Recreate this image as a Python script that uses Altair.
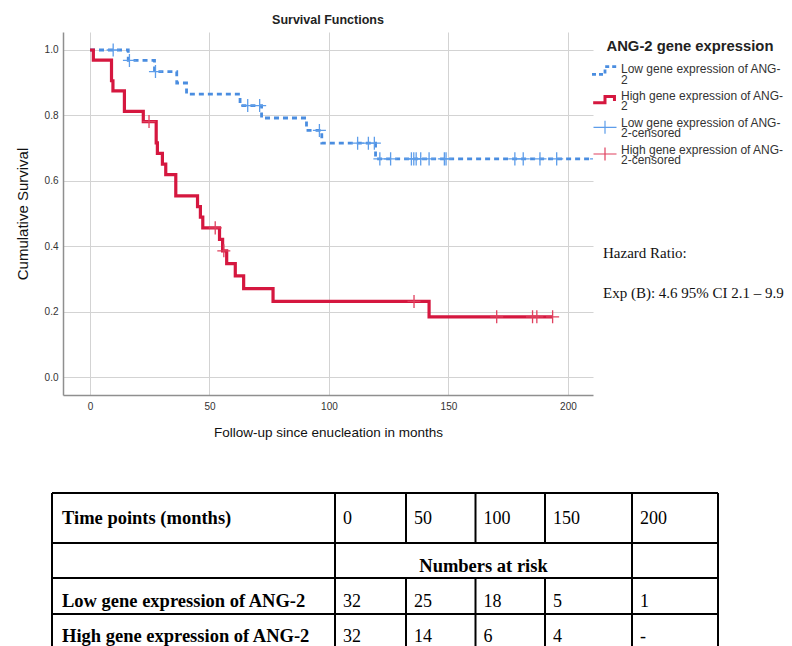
import altair as alt
import pandas as pd

# ---------------- data ----------------
# Low ANG-2 expression (blue, dashed): step times and survival level after each step
low_step_t = [0, 16.0, 27.0, 36.3, 40.4, 62.8, 71.8, 90.6, 97.0, 119.5]
low_step_s = [1.0, 0.968, 0.934, 0.899, 0.865, 0.830, 0.792, 0.754, 0.715, 0.667]
low_last_t = 212.0
low_cens_t = [9.7, 16.5, 27.4, 66.0, 71.0, 96.0, 112.0, 116.5, 119.0, 121.3, 125.8,
              134.5, 135.5, 136.5, 138.4, 141.9, 148.3, 149.0, 177.8, 181.3, 188.3,
              195.3, 212.0]

# High ANG-2 expression (red, solid)
high_step_t = [0, 1.4, 9.0, 9.6, 14.4, 22.3, 27.7, 28.2, 30.3, 31.7, 35.9, 45.0,
               46.2, 47.2, 54.2, 55.5, 57.2, 60.8, 64.3, 76.6, 141.9]
high_step_s = [1.0, 0.969, 0.906, 0.875, 0.8125, 0.781, 0.716, 0.684, 0.651, 0.619,
               0.554, 0.521, 0.489, 0.456, 0.421, 0.386, 0.347, 0.309, 0.270, 0.231,
               0.184]
high_last_t = 193.6
high_cens_t = [24.7, 52.4, 56.0, 135.6, 170.2, 185.2, 187.0, 193.6]

x_ticks = [0, 50, 100, 150, 200]
y_ticks = [0.0, 0.2, 0.4, 0.6, 0.8, 1.0]

legend_title = "ANG-2 gene expression"
legend_labels = ["Low gene expression of ANG-\n2",
                 "High gene expression of ANG-\n2",
                 "Low gene expression of ANG-\n2-censored",
                 "High gene expression of ANG-\n2-censored"]
hazard_lines = ["Hazard Ratio:", "Exp (B): 4.6 95% CI 2.1 \u2013 9.9"]

table_header = "Time points (months)"
table_time_points = ["0", "50", "100", "150", "200"]
table_subheader = "Numbers at risk"
row_low_label = "Low gene expression of ANG-2"
row_high_label = "High gene expression of ANG-2"
risk_low = ["32", "25", "18", "5", "1"]
risk_high = ["32", "14", "6", "4", "-"]

# ---------------- layout (page pixels) ----------------
OX, OY = 63, 32          # plot-area origin on the page
W, H = 530, 363          # plot area size
BLUE = "#4A8DE0"
RED = "#D5173F"
BLUE_C = "#5D9DEA"
RED_C = "#E0405E"
SANS = "Liberation Sans"
SERIF = "Liberation Serif"

col_edges = [52, 335, 406, 475.5, 545, 632, 718]
row_edges = [493, 543, 578, 614, 652]
row_base = [523.5, 571.5, 606.5, 641.5]


def px(v):
    return v - OX


def py(v):
    return v - OY


def step_frame(ts, ss, last_t):
    return pd.DataFrame({"t": list(ts) + [last_t], "s": list(ss) + [ss[-1]]})


def cens_frame(cts, ts, ss):
    lv = []
    for c in cts:
        level = ss[0]
        for t, s in zip(ts, ss):
            if t <= c:
                level = s
        lv.append(level)
    return pd.DataFrame({"t": cts, "s": lv})


xs = alt.Scale(domain=[-11.3, 210.5], nice=False, zero=False)
ys = alt.Scale(domain=[-0.055, 1.055], nice=False, zero=False)
xaxis = alt.Axis(values=x_ticks, title="Follow-up since enucleation in months",
                 grid=True, ticks=False, tickSize=0, labelPadding=6,
                 titlePadding=14, titleFontSize=13.5, titleFontWeight="normal")
yaxis = alt.Axis(values=y_ticks, format=".1f", title="Cumulative Survival",
                 grid=True, ticks=False, tickSize=0, labelPadding=5,
                 titlePadding=14, titleFontSize=15, titleFontWeight="normal")

low_line = alt.Chart(step_frame(low_step_t, low_step_s, low_last_t)).mark_line(
    interpolate="step-after", color=BLUE, strokeWidth=2.8, strokeDash=[5, 4], clip=True
).encode(x=alt.X("t:Q", scale=xs, axis=xaxis), y=alt.Y("s:Q", scale=ys, axis=yaxis))

high_line = alt.Chart(step_frame(high_step_t, high_step_s, high_last_t)).mark_line(
    interpolate="step-after", color=RED, strokeWidth=3.2, clip=True
).encode(x=alt.X("t:Q", scale=xs), y=alt.Y("s:Q", scale=ys))

CROSS = "M-1,0H1M0,-1V1"
low_cens = alt.Chart(cens_frame(low_cens_t, low_step_t, low_step_s)).mark_point(
    shape=CROSS, filled=False, stroke=BLUE_C, strokeWidth=1.3, size=170, opacity=1, clip=True
).encode(x=alt.X("t:Q", scale=xs), y=alt.Y("s:Q", scale=ys))

high_cens = alt.Chart(cens_frame(high_cens_t, high_step_t, high_step_s)).mark_point(
    shape=CROSS, filled=False, stroke=RED_C, strokeWidth=1.3, size=170, opacity=1, clip=True
).encode(x=alt.X("t:Q", scale=xs), y=alt.Y("s:Q", scale=ys))

# ---------------- legend ----------------
one = pd.DataFrame({"a": [0]})
sym_y = [70.5, 99.7, 127.3, 154.0]
sym_x = 605
leg_syms = [
    alt.Chart(one).mark_point(shape="M-1,0.3H0V-0.3H1", filled=False, stroke=BLUE,
                              strokeWidth=2.8, strokeDash=[4, 3], size=676, opacity=1)
    .encode(x=alt.value(px(sym_x)), y=alt.value(py(sym_y[0]))),
    alt.Chart(one).mark_point(shape="M-1,0.26H0V-0.26H0.8V0.1", filled=False, stroke=RED,
                              strokeWidth=3, size=560, opacity=1)
    .encode(x=alt.value(px(sym_x)), y=alt.value(py(sym_y[1]))),
    alt.Chart(one).mark_point(shape="M-1,0H1M0,-0.57V0.57", filled=False, stroke=BLUE_C,
                              strokeWidth=1.2, size=529, opacity=1)
    .encode(x=alt.value(px(sym_x)), y=alt.value(py(sym_y[2]))),
    alt.Chart(one).mark_point(shape="M-1,0H1M0,-0.57V0.57", filled=False, stroke=RED_C,
                              strokeWidth=1.2, size=529, opacity=1)
    .encode(x=alt.value(px(sym_x)), y=alt.value(py(sym_y[3]))),
]

leg_text_df = pd.DataFrame({
    "label": legend_labels,
    "px": [px(621)] * 4,
    "py": [py(v) for v in [73.3, 100.0, 126.7, 153.5]],
})
leg_text = alt.Chart(leg_text_df).mark_text(
    align="left", baseline="alphabetic", font=SANS, fontSize=12, color="#333333",
    lineBreak="\n", lineHeight=10.4
).encode(x=alt.X("px:Q", scale=None, axis=None), y=alt.Y("py:Q", scale=None, axis=None),
         text="label:N")

leg_title = alt.Chart(pd.DataFrame({"label": [legend_title]})).mark_text(
    align="left", baseline="alphabetic", font=SANS, fontSize=14.8, fontWeight="bold",
    color="#222222"
).encode(x=alt.value(px(606.5)), y=alt.value(py(51)), text="label:N")

hz_df = pd.DataFrame({"label": hazard_lines, "px": [px(603)] * 2,
                      "py": [py(258), py(298)]})
hz_text = alt.Chart(hz_df).mark_text(
    align="left", baseline="alphabetic", font=SERIF, fontSize=15, color="#111111"
).encode(x=alt.X("px:Q", scale=None, axis=None), y=alt.Y("py:Q", scale=None, axis=None),
         text="label:N")

# ---------------- numbers-at-risk table ----------------
segs = []
for yv in row_edges:
    segs.append((col_edges[0], col_edges[-1], yv, yv))
for xv in [col_edges[0], col_edges[1], col_edges[5], col_edges[6]]:
    segs.append((xv, xv, row_edges[0], row_edges[-1]))
for xv in col_edges[2:5]:
    segs.append((xv, xv, row_edges[0], row_edges[1]))
    segs.append((xv, xv, row_edges[2], row_edges[4]))
seg_df = pd.DataFrame(segs, columns=["x1", "x2", "y1", "y2"])
for c in ["x1", "x2"]:
    seg_df[c] = seg_df[c] - OX
for c in ["y1", "y2"]:
    seg_df[c] = seg_df[c] - OY
table_lines = alt.Chart(seg_df).mark_rule(color="#000000", strokeWidth=2).encode(
    x=alt.X("x1:Q", scale=None, axis=None), x2="x2:Q",
    y=alt.Y("y1:Q", scale=None, axis=None), y2="y2:Q")

bold_rows = [
    (table_header, 62, row_base[0], "left"),
    (table_subheader, (col_edges[1] + col_edges[5]) / 2, row_base[1], "center"),
    (row_low_label, 62, row_base[2], "left"),
    (row_high_label, 62, row_base[3], "left"),
]
bold_df = pd.DataFrame(bold_rows, columns=["label", "px", "py", "al"])
bold_df["px"] = bold_df["px"] - OX
bold_df["py"] = bold_df["py"] - OY
bold_left = alt.Chart(bold_df[bold_df.al == "left"]).mark_text(
    align="left", baseline="alphabetic", font=SERIF, fontSize=18.5, fontWeight="bold",
    color="#000000"
).encode(x=alt.X("px:Q", scale=None, axis=None), y=alt.Y("py:Q", scale=None, axis=None),
         text="label:N")
bold_center = alt.Chart(bold_df[bold_df.al == "center"]).mark_text(
    align="center", baseline="alphabetic", font=SERIF, fontSize=18.5, fontWeight="bold",
    color="#000000"
).encode(x=alt.X("px:Q", scale=None, axis=None), y=alt.Y("py:Q", scale=None, axis=None),
         text="label:N")

num_rows = []
for i in range(5):
    xl = col_edges[i + 1] + 8
    num_rows.append((table_time_points[i], xl, row_base[0]))
    num_rows.append((risk_low[i], xl, row_base[2]))
    num_rows.append((risk_high[i], xl, row_base[3]))
num_df = pd.DataFrame(num_rows, columns=["label", "px", "py"])
num_df["px"] = num_df["px"] - OX
num_df["py"] = num_df["py"] - OY
num_text = alt.Chart(num_df).mark_text(
    align="left", baseline="alphabetic", font=SERIF, fontSize=18, color="#000000"
).encode(x=alt.X("px:Q", scale=None, axis=None), y=alt.Y("py:Q", scale=None, axis=None),
         text="label:N")

chart = alt.layer(
    low_line, high_line, low_cens, high_cens,
    *leg_syms, leg_text, leg_title, hz_text,
    table_lines, bold_left, bold_center, num_text,
).properties(
    width=W, height=H,
    title=alt.TitleParams("Survival Functions", fontSize=12.5, fontWeight="bold",
                          font=SANS, offset=6, anchor="middle", color="#222222"),
    autosize=alt.AutoSizeParams(type="none"),
    padding={"left": OX - 8, "top": OY - 8, "right": 792 - 16 - (OX - 8) - W,
             "bottom": 638 - (OY - 8) - H},
).configure_view(stroke=None).configure_axis(
    gridColor="#d3d3d3", gridWidth=1, domainColor="#8f8f8f", domainWidth=1.5,
    labelFont=SANS, labelFontSize=10, labelColor="#333333",
    titleFont=SANS, titleColor="#111111",
)

chart.save("out.html", embed_options={"renderer": "svg", "actions": False})
